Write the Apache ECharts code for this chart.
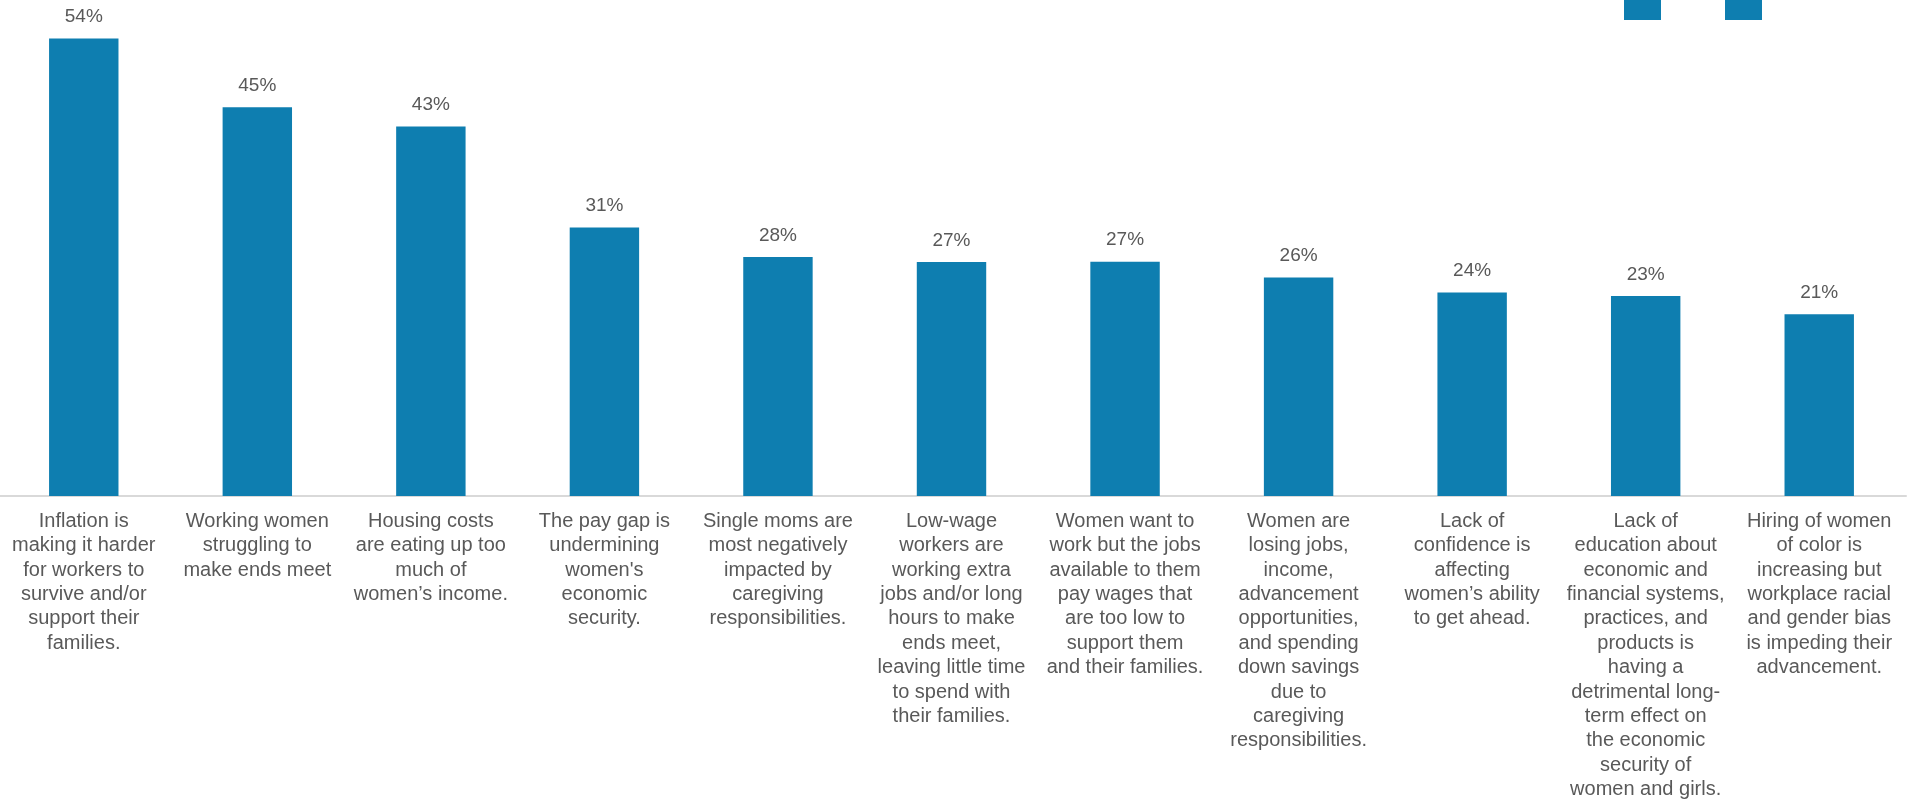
<!DOCTYPE html>
<html>
<head>
<meta charset="utf-8">
<script src="https://cdn.jsdelivr.net/npm/echarts@6/dist/echarts.min.js"></script>
<style>
html,body{margin:0;padding:0;background:#fff;overflow:hidden;}
#chart{width:1912px;height:802px;margin-left:-3px;}
</style>
</head>
<body>
<div id="chart"></div>
<script>
const categories = [
  "Inflation is\nmaking it harder\nfor workers to\nsurvive and/or\nsupport their\nfamilies.",
  "Working women\nstruggling to\nmake ends meet",
  "Housing costs\nare eating up too\nmuch of\nwomen\u2019s income.",
  "The pay gap is\nundermining\nwomen's\neconomic\nsecurity.",
  "Single moms are\nmost negatively\nimpacted by\ncaregiving\nresponsibilities.",
  "Low-wage\nworkers are\nworking extra\njobs and/or long\nhours to make\nends meet,\nleaving little time\nto spend with\ntheir families.",
  "Women want to\nwork but the jobs\navailable to them\npay wages that\nare too low to\nsupport them\nand their families.",
  "Women are\nlosing jobs,\nincome,\nadvancement\nopportunities,\nand spending\ndown savings\ndue to\ncaregiving\nresponsibilities.",
  "Lack of\nconfidence is\naffecting\nwomen\u2019s ability\nto get ahead.",
  "Lack of\neducation about\neconomic and\nfinancial systems,\npractices, and\nproducts is\nhaving a\ndetrimental long-\nterm effect on\nthe economic\nsecurity of\nwomen and girls.",
  "Hiring of women\nof color is\nincreasing but\nworkplace racial\nand gender bias\nis impeding their\nadvancement."
];
const values = [53.5, 45.45, 43.2, 31.4, 27.95, 27.35, 27.4, 25.55, 23.8, 23.4, 21.25];
const legendNames = ["Series A", "Series B"];

const chart = echarts.init(document.getElementById('chart'));
const blue = '#0E7EB0';
chart.setOption({
  animation: false,
  textStyle: { fontFamily: '"Liberation Sans", Arial, sans-serif' },
  legend: {
    data: legendNames,
    right: 147,
    top: -17,
    padding: 0,
    icon: 'rect',
    itemWidth: 37,
    itemHeight: 37,
    itemGap: 64,
    formatter: function () { return ''; },
    selectedMode: false
  },
  grid: { left: 0, right: 3, top: 0, bottom: 306, containLabel: false },
  xAxis: {
    type: 'category',
    data: categories,
    axisLine: { show: true, lineStyle: { color: '#D9D9D9', width: 2 } },
    axisTick: { show: false },
    axisLabel: {
      interval: 0,
      margin: 13,
      color: '#595959',
      fontSize: 20,
      lineHeight: 24.4,
      align: 'center',
      hideOverlap: false
    }
  },
  yAxis: {
    type: 'value',
    min: 0,
    max: 58,
    show: false,
    splitLine: { show: false }
  },
  series: [
    {
      name: legendNames[0],
      type: 'bar',
      data: values,
      barWidth: '40%',
      itemStyle: { color: blue },
      label: {
        show: true,
        position: 'top',
        distance: 12,
        color: '#595959',
        fontSize: 19,
        formatter: function (p) { return Math.round(p.value) + '%'; }
      }
    },
    {
      name: legendNames[1],
      type: 'line',
      data: [],
      itemStyle: { color: blue },
      lineStyle: { color: blue }
    }
  ]
});
</script>
</body>
</html>
